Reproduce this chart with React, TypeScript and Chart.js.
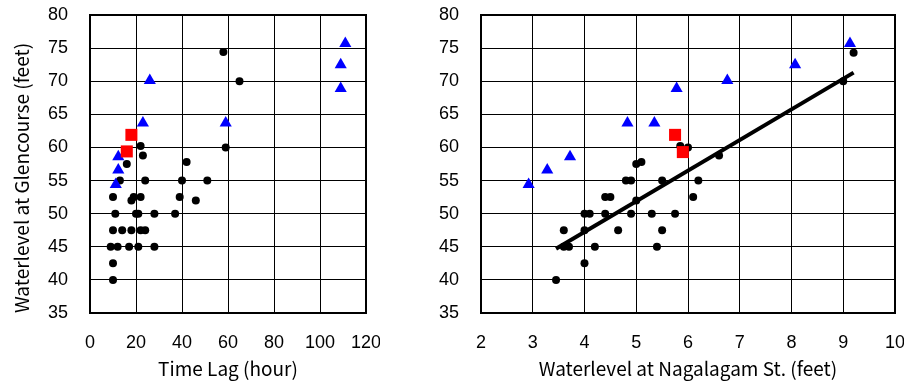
import React, { useEffect, useRef } from "react";
import { Chart, registerables } from "chart.js";

Chart.register(...registerables);

// Left chart: Time Lag vs Waterlevel at Glencourse
const lagDotX = [22, 23, 16, 13, 24, 10, 18, 19, 22, 11, 20, 21, 28, 10, 14, 18, 22, 24, 9, 12, 17, 21, 28, 10, 10, 58, 65, 59, 42, 40, 51, 39, 46, 37];
const lagDotY = [60.2, 58.8, 57.5, 55, 55, 52.5, 52, 52.5, 52.5, 50, 50, 50, 50, 47.5, 47.5, 47.5, 47.5, 47.5, 45, 45, 45, 45, 45, 42.5, 40, 74.4, 70, 60, 57.8, 55, 55, 52.5, 52, 50];
const lagTriX = [111, 109, 109, 26, 23, 59, 12.3, 12.3, 11.2];
const lagTriY = [75.7, 72.5, 68.9, 70.1, 63.7, 63.7, 58.6, 56.6, 54.4];
const lagSqX = [18, 16];
const lagSqY = [61.9, 59.4];

// Right chart: Waterlevel at Nagalagam St. vs Waterlevel at Glencourse
const nagDotX = [9.2, 9.0, 5.85, 6.0, 6.6, 5.0, 5.1, 4.8, 4.9, 5.5, 6.2, 4.4, 4.5, 5.0, 6.1, 4.0, 4.1, 4.4, 4.9, 5.3, 5.75, 3.6, 4.0, 4.65, 5.5, 3.6, 3.7, 4.2, 5.4, 4.0, 3.45];
const nagDotY = [74.3, 70, 60.2, 60, 58.8, 57.5, 57.8, 55, 55, 55, 55, 52.5, 52.5, 52, 52.5, 50, 50, 50, 50, 50, 50, 47.5, 47.5, 47.5, 47.5, 45, 45, 45, 45, 42.5, 40];
const nagTriX = [9.13, 8.07, 5.78, 6.76, 4.83, 5.35, 3.72, 3.28, 2.92];
const nagTriY = [75.7, 72.5, 68.9, 70.1, 63.7, 63.7, 58.6, 56.6, 54.4];
const nagSqX = [5.75, 5.9];
const nagSqY = [61.9, 59.3];
const trendX = [3.45, 9.2];
const trendY = [44.7, 71.3];

const yMin = 35;
const yMax = 80;
const yStep = 5;
const lagMin = 0;
const lagMax = 120;
const lagStep = 20;
const nagMin = 2;
const nagMax = 10;
const nagStep = 1;

const yTitle = "Waterlevel at Glencourse (feet)";
const lagTitle = "Time Lag (hour)";
const nagTitle = "Waterlevel at Nagalagam St. (feet)";

const TICK_FONT = { family: "'Liberation Sans', Arial, sans-serif", size: 18 };
const TITLE_FONT = { family: "'Noto Sans CJK JP', 'Noto Sans', sans-serif", size: 19 };

const pts = (xs: number[], ys: number[]) => xs.map((x, i) => ({ x, y: ys[i] }));

const boxPlugin = {
  id: "boxPlugin",
  beforeDatasetsDraw(chart: any) {
    const { ctx, chartArea } = chart;
    ctx.save();
    ctx.strokeStyle = "#000";
    ctx.lineWidth = 2;
    ctx.strokeRect(chartArea.left, chartArea.top, chartArea.right - chartArea.left, chartArea.bottom - chartArea.top);
    ctx.restore();
  },
};

function buildConfig(opts: {
  dotX: number[]; dotY: number[]; triX: number[]; triY: number[]; sqX: number[]; sqY: number[];
  xMin: number; xMax: number; xStep: number; xTitle: string; showYTitle: boolean; yWidth: number; rightPad: number;
  trend?: { x: number[]; y: number[] };
}) {
  const datasets: any[] = [];
  if (opts.trend) {
    datasets.push({
      type: "line",
      data: pts(opts.trend.x, opts.trend.y),
      borderColor: "#000",
      borderWidth: 4,
      pointRadius: 0,
      fill: false,
      order: 0,
    });
  }
  datasets.push(
    {
      type: "scatter",
      data: pts(opts.dotX, opts.dotY),
      pointStyle: "circle",
      pointRadius: 4,
      backgroundColor: "#000",
      borderColor: "#000",
      borderWidth: 0,
      order: 3,
    },
    {
      type: "scatter",
      data: pts(opts.triX, opts.triY),
      pointStyle: "triangle",
      pointRadius: 7,
      backgroundColor: "#0000FF",
      borderColor: "#0000FF",
      borderWidth: 0,
      order: 2,
    },
    {
      type: "scatter",
      data: pts(opts.sqX, opts.sqY),
      pointStyle: "rect",
      pointRadius: 8.5,
      backgroundColor: "#FF0000",
      borderColor: "#FF0000",
      borderWidth: 0,
      order: 1,
    }
  );
  return {
    type: "scatter",
    data: { datasets },
    options: {
      animation: false,
      responsive: false,
      layout: { padding: { top: 15, right: opts.rightPad, left: 0, bottom: 0 } },
      plugins: { legend: { display: false }, tooltip: { enabled: false } },
      scales: {
        x: {
          type: "linear",
          min: opts.xMin,
          max: opts.xMax,
          afterFit: (s: any) => {
            s.height = 70;
            s.paddingLeft = 0;
            s.paddingRight = 0;
          },
          ticks: { stepSize: opts.xStep, color: "#000", font: TICK_FONT, padding: 19, maxRotation: 0 },
          grid: { color: "#000", lineWidth: 1, drawTicks: false },
          border: { display: false },
          title: { display: true, text: opts.xTitle, color: "#000", font: TITLE_FONT, padding: { top: 0, bottom: 2.6 } },
        },
        y: {
          type: "linear",
          min: yMin,
          max: yMax,
          afterFit: (s: any) => {
            s.width = opts.yWidth;
            s.paddingTop = 0;
            s.paddingBottom = 0;
          },
          ticks: { stepSize: yStep, color: "#000", font: TICK_FONT, padding: 22 },
          grid: { color: "#000", lineWidth: 1, drawTicks: false },
          border: { display: false },
          title: {
            display: opts.showYTitle,
            text: yTitle,
            align: "start",
            color: "#000",
            font: TITLE_FONT,
            padding: { top: 10.6, bottom: 0 },
          },
        },
      },
    },
    plugins: [boxPlugin],
  };
}

function ChartCanvas({ config, width, height, left }: { config: any; width: number; height: number; left: number }) {
  const ref = useRef<HTMLCanvasElement | null>(null);
  useEffect(() => {
    if (!ref.current) return;
    const chart = new Chart(ref.current, config);
    return () => chart.destroy();
  }, [config]);
  return (
    <canvas
      ref={ref}
      width={width}
      height={height}
      style={{ position: "absolute", left, top: 0, width, height }}
    />
  );
}

const leftConfig = buildConfig({
  dotX: lagDotX, dotY: lagDotY, triX: lagTriX, triY: lagTriY, sqX: lagSqX, sqY: lagSqY,
  xMin: lagMin, xMax: lagMax, xStep: lagStep, xTitle: lagTitle, showYTitle: true, yWidth: 90, rightPad: 14,
});

const rightConfig = buildConfig({
  dotX: nagDotX, dotY: nagDotY, triX: nagTriX, triY: nagTriY, sqX: nagSqX, sqY: nagSqY,
  xMin: nagMin, xMax: nagMax, xStep: nagStep, xTitle: nagTitle, showYTitle: false, yWidth: 101, rightPad: 9,
  trend: { x: trendX, y: trendY },
});

export default function App() {
  return (
    <div style={{ position: "fixed", left: 0, top: 0, width: 904, height: 383, background: "#fff", overflow: "hidden" }}>
      <ChartCanvas config={leftConfig} width={380} height={383} left={0} />
      <ChartCanvas config={rightConfig} width={524} height={383} left={380} />
    </div>
  );
}
